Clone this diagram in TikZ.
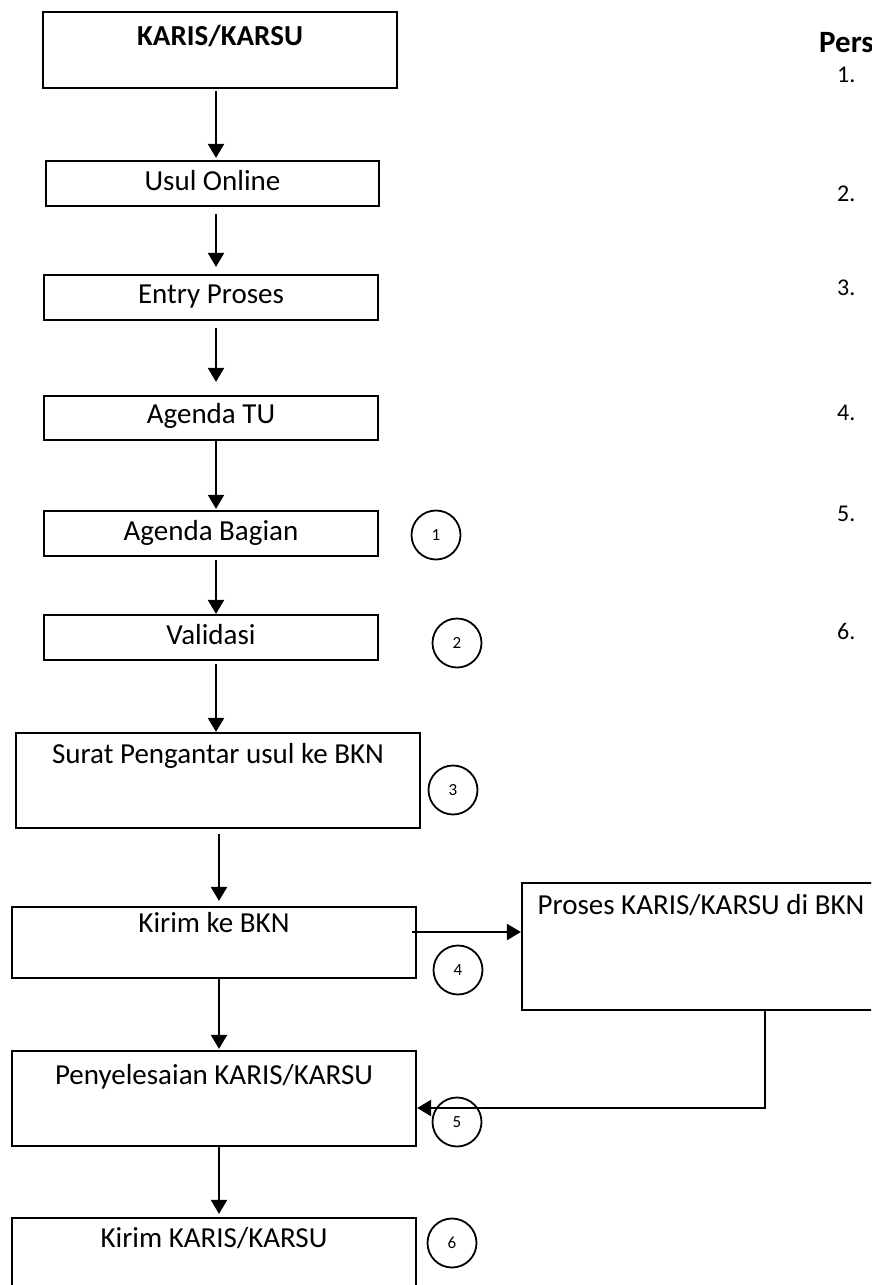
\documentclass[tikz,border=0pt]{standalone}
\usepackage{fontspec}
\setmainfont{Carlito}
\usetikzlibrary{arrows.meta}

\begin{document}
\begin{tikzpicture}[x=1pt,y=-1pt,
    box/.style={draw,line width=2.2pt,inner sep=0pt,anchor=base,font=\fontsize{29}{35}\selectfont},
    num/.style={circle,draw,line width=1.8pt,minimum size=49pt,inner sep=0pt,font=\fontsize{17}{20}\selectfont},
    note/.style={anchor=base west,inner sep=0pt,font=\fontsize{24}{29}\selectfont},
    flow/.style={line width=2.2pt,-{Triangle[width=16pt,length=14pt]}}]

        \clip (0,0) rectangle (871,1285);

        \coordinate (spine)    at (216,0);
        \coordinate (spinelow) at (219,0);
        \coordinate (turn)     at (765,1108);

        \begin{scope}[every node/.style={box}]
          \node[minimum width=354pt,text height=33pt,text depth=43pt,font=\fontsize{29}{35}\selectfont\bfseries] (karis) at (220,45) {KARIS/KARSU};
          \node[minimum width=333pt,text height=29pt,text depth=16pt] (usul)   at (212.5,190) {Usul Online};
          \node[minimum width=334pt,text height=28pt,text depth=17pt] (entry)  at (211,303)   {Entry Proses};
          \node[minimum width=334pt,text height=27pt,text depth=17pt] (agtu)   at (211,423)   {Agenda TU};
          \node[minimum width=334pt,text height=29pt,text depth=16pt] (agbag)  at (211,540)   {Agenda Bagian};
          \node[minimum width=334pt,text height=29pt,text depth=16pt] (valid)  at (211,644)   {Validasi};
          \node[minimum width=404pt,text height=30pt,text depth=65pt] (surat)  at (218,763)   {Surat Pengantar usul ke BKN};
          \node[minimum width=404pt,text height=25pt,text depth=46pt] (kirim)  at (214,932)   {Kirim ke BKN};
          \node[minimum width=404pt,text height=33pt,text depth=62pt] (peny)   at (214,1084)  {Penyelesaian KARIS/KARSU};
          \node[minimum width=404pt,text height=29pt,text depth=60pt] (kirimk) at (214,1247)  {Kirim KARIS/KARSU};
          \node[minimum width=358pt,text height=31pt,text depth=96pt] (proses) at (701,914)   {Proses KARIS/KARSU di BKN};
        \end{scope}

        \begin{scope}[every node/.style={num}]
          \node (c1) at (436,535)  {1};
          \node (c2) at (457,643)  {2};
          \node (c3) at (453,790)  {3};
          \node (c4) at (458,970)  {4};
          \node (c5) at (457,1122) {5};
          \node (c6) at (452,1243) {6};
        \end{scope}

        \node[note,font=\fontsize{31}{37}\selectfont\bfseries] (pers) at (819,52) {Pers};
        \node[note] (n1) at (837,82)  {1.};
        \node[note] (n2) at (837,201) {2.};
        \node[note] (n3) at (837,295) {3.};
        \node[note] (n4) at (837,420) {4.};
        \node[note] (n5) at (837,521) {5.};
        \node[note] (n6) at (837,639) {6.};

        \draw[flow,shorten <=2pt,shorten >=2pt]  (karis.south -| spine) -- (usul.north -| spine);
        \draw[flow,shorten <=7pt,shorten >=7pt]  (usul.south -| spine)  -- (entry.north -| spine);
        \draw[flow,shorten <=7pt,shorten >=13pt] (entry.south -| spine) -- (agtu.north -| spine);
        \draw[flow,shorten >=1pt]                (agtu.south -| spine)  -- (agbag.north -| spine);
        \draw[flow,shorten <=3pt]                (agbag.south -| spine) -- (valid.north -| spine);
        \draw[flow,shorten <=3pt]                (valid.south -| spine) -- (surat.north -| spine);
        \draw[flow,shorten <=5pt,shorten >=5pt]  (surat.south -| spinelow) -- (kirim.north -| spinelow);
        \draw[flow,shorten >=1pt]                (kirim.south -| spinelow) -- (peny.north -| spinelow);
        \draw[flow,shorten >=3pt]                (peny.south -| spinelow)  -- (kirimk.north -| spinelow);

        \draw[flow] ([xshift=-5pt]kirim.base east) -- (proses.west |- kirim.base);
        \draw[flow] (proses.south -| turn) |- (peny.east |- turn);

      \end{tikzpicture}
\end{document}
